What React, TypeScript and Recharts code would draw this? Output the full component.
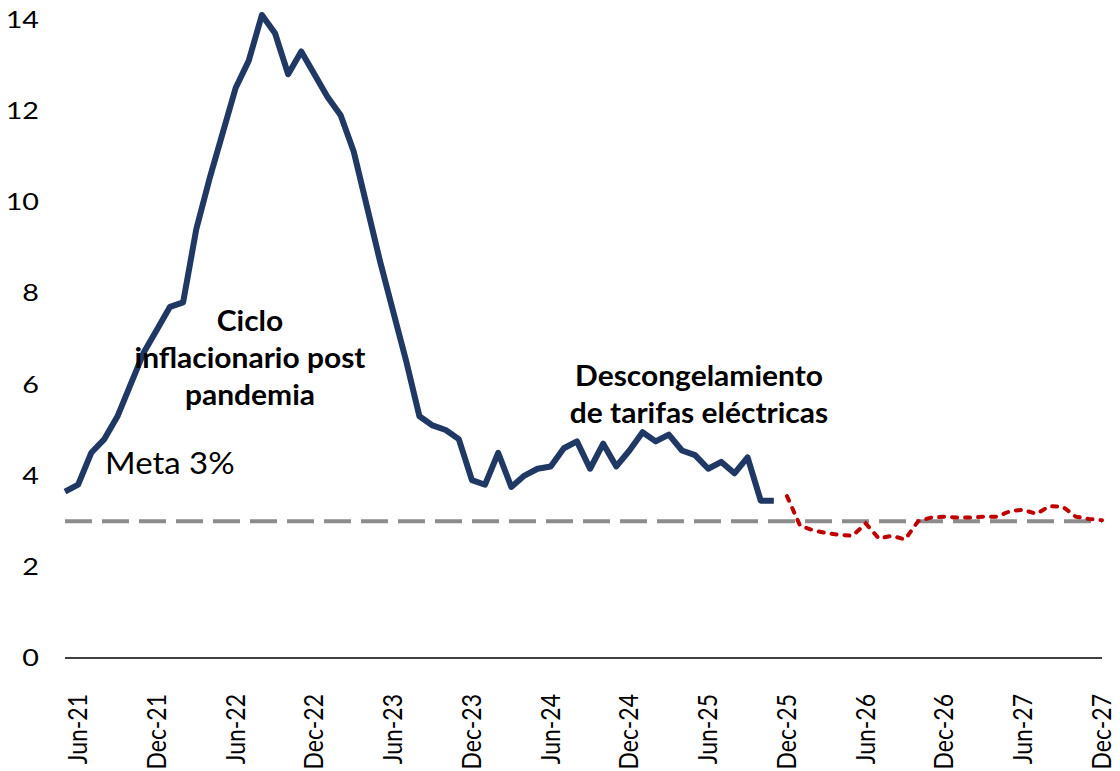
import React from 'react';
import { LineChart, Line, XAxis, YAxis, ReferenceLine } from 'recharts';

const FONT = 'Lato, "Liberation Sans", sans-serif';

// monthly categories, May-21 .. Dec-27
const months = [
  'May-21', 'Jun-21', 'Jul-21', 'Aug-21', 'Sep-21', 'Oct-21', 'Nov-21', 'Dec-21',
  'Jan-22', 'Feb-22', 'Mar-22', 'Apr-22', 'May-22', 'Jun-22', 'Jul-22', 'Aug-22', 'Sep-22', 'Oct-22', 'Nov-22', 'Dec-22',
  'Jan-23', 'Feb-23', 'Mar-23', 'Apr-23', 'May-23', 'Jun-23', 'Jul-23', 'Aug-23', 'Sep-23', 'Oct-23', 'Nov-23', 'Dec-23',
  'Jan-24', 'Feb-24', 'Mar-24', 'Apr-24', 'May-24', 'Jun-24', 'Jul-24', 'Aug-24', 'Sep-24', 'Oct-24', 'Nov-24', 'Dec-24',
  'Jan-25', 'Feb-25', 'Mar-25', 'Apr-25', 'May-25', 'Jun-25', 'Jul-25', 'Aug-25', 'Sep-25', 'Oct-25', 'Nov-25', 'Dec-25',
  'Jan-26', 'Feb-26', 'Mar-26', 'Apr-26', 'May-26', 'Jun-26', 'Jul-26', 'Aug-26', 'Sep-26', 'Oct-26', 'Nov-26', 'Dec-26',
  'Jan-27', 'Feb-27', 'Mar-27', 'Apr-27', 'May-27', 'Jun-27', 'Jul-27', 'Aug-27', 'Sep-27', 'Oct-27', 'Nov-27', 'Dec-27',
];

// observed inflation, May-21 .. Nov-25
const actual = [
  3.65, 3.8, 4.5, 4.8, 5.3, 6.0, 6.7, 7.2,
  7.7, 7.8, 9.4, 10.5, 11.5, 12.5, 13.1, 14.1, 13.7, 12.8, 13.3, 12.8,
  12.3, 11.9, 11.1, 9.9, 8.7, 7.6, 6.5, 5.3, 5.1, 5.0, 4.8, 3.9,
  3.8, 4.5, 3.75, 4.0, 4.15, 4.2, 4.6, 4.75, 4.15, 4.7, 4.2, 4.55,
  4.95, 4.75, 4.9, 4.55, 4.45, 4.15, 4.3, 4.05, 4.4, 3.45, 3.45,
];

// projection, Dec-25 .. Dec-27
const projection = [
  3.55,
  2.9, 2.8, 2.74, 2.7, 2.68, 2.95, 2.62, 2.68, 2.6, 3.0, 3.08, 3.1,
  3.08, 3.08, 3.1, 3.1, 3.22, 3.25, 3.16, 3.33, 3.32, 3.1, 3.05, 3.02,
];

const tickLabels = ['Jun-21', 'Dec-21', 'Jun-22', 'Dec-22', 'Jun-23', 'Dec-23', 'Jun-24', 'Dec-24', 'Jun-25', 'Dec-25', 'Jun-26', 'Dec-26', 'Jun-27', 'Dec-27'];
const yTicks = [0, 2, 4, 6, 8, 10, 12, 14];
const target = 3;

const projStart = months.indexOf('Dec-25');

const data = months.map((m, i) => ({
  idx: i,
  month: m,
  actual: i < actual.length ? actual[i] : null,
  projection: i >= projStart ? projection[i - projStart] : null,
}));

const xTicks = tickLabels.map((l) => months.indexOf(l));

const XTick = (props: any) => {
  const { x, y, payload } = props;
  return (
    <text
      transform={`translate(${x + 9}, ${y + 28}) rotate(-90) scale(1, 1.2)`}
      textAnchor="end"
      fontSize={23}
      fontFamily={FONT}
      fill="#000"
    >
      {months[payload.value]}
    </text>
  );
};

const YTick = (props: any) => {
  const { x, y, payload } = props;
  return (
    <text
      transform={`translate(${x}, ${y}) scale(1.25, 1)`}
      textAnchor="end"
      dy="0.36em"
      fontSize={23}
      fontFamily={FONT}
      fill="#000"
    >
      {payload.value}
    </text>
  );
};

const boldNote: React.CSSProperties = {
  position: 'absolute',
  fontFamily: FONT,
  fontWeight: 700,
  fontSize: 28,
  lineHeight: '37px',
  textAlign: 'center',
  color: '#000',
  whiteSpace: 'nowrap',
  transform: 'translateX(-50%) scaleX(1.07)',
};

export default function App() {
  return (
    <div style={{ position: 'absolute', left: 0, top: 0, width: 1120, height: 771, background: '#fff' }}>
      <LineChart width={1120} height={771} data={data} margin={{ top: 15, right: 18, bottom: 0, left: 0 }}>
        <XAxis
          dataKey="idx"
          type="number"
          domain={[0, months.length - 1]}
          ticks={xTicks}
          interval={0}
          tick={<XTick />}
          tickLine={false}
          axisLine={{ stroke: '#000', strokeWidth: 1.5 }}
          height={113}
        />
        <YAxis
          domain={[0, 14]}
          ticks={yTicks}
          interval={0}
          axisLine={false}
          tickLine={false}
          tickSize={0}
          tickMargin={26}
          width={65}
          tick={<YTick />}
        />
        <ReferenceLine y={target} stroke="#8c8c8c" strokeWidth={4} strokeDasharray="27 10" />
        <Line
          type="linear"
          dataKey="actual"
          stroke="#203864"
          strokeWidth={6}
          dot={false}
          strokeLinejoin="round"
          isAnimationActive={false}
        />
        <Line
          type="linear"
          dataKey="projection"
          stroke="#c00000"
          strokeWidth={4}
          strokeDasharray="5 8"
          strokeLinecap="round"
          dot={false}
          isAnimationActive={false}
        />
      </LineChart>
      <div style={{ ...boldNote, left: 250, top: 302 }}>
        Ciclo<br />inflacionario post<br />pandemia
      </div>
      <div style={{ ...boldNote, left: 699, top: 357 }}>
        Descongelamiento<br />de tarifas eléctricas
      </div>
      <div
        style={{
          position: 'absolute',
          left: 105,
          top: 444,
          fontFamily: FONT,
          fontSize: 30,
          color: '#000',
          transform: 'scaleX(1.1)',
          transformOrigin: 'left',
        }}
      >
        Meta 3%
      </div>
    </div>
  );
}
